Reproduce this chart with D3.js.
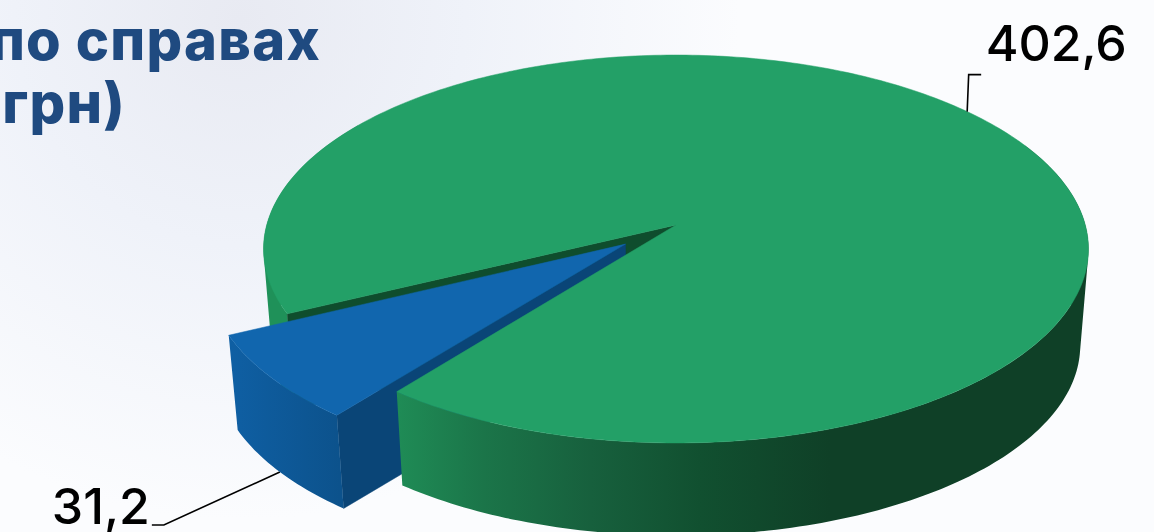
<!DOCTYPE html>
<html>
<head>
<meta charset="utf-8">
<script src="https://cdn.jsdelivr.net/npm/d3@7"></script>
<style>
  html, body { margin: 0; padding: 0; background: #fbfcfe; overflow: hidden; }
  svg { display: block; }
  .title { font-family: Inter, sans-serif; font-weight: 800; font-size: 56px; letter-spacing: 1.3px; fill: #1f4a80; text-anchor: end; }
  .value { font-family: Inter, sans-serif; font-weight: 500; font-size: 50px; fill: #000; }
  .leader { fill: none; stroke: #000; stroke-width: 1.6; }
</style>
</head>
<body>
<svg width="1154" height="532"></svg>
<script>
'use strict';

var categories = ['green', 'blue'];
var values = [402.6, 31.2];
var valueLabels = ['402,6', '31,2'];
var titleLines = ['по справах', 'грн)'];

var WIDTH = 1154,
  HEIGHT = 532,
  RAD = Math.PI / 180;

// the disc is a flattened circle seen from above with some perspective
var CENTER = { x: 676, y: 225 },
  RADIUS_X = 409.3,
  RADIUS_Y = 191,
  PERSPECTIVE = 0.1237,
  DEPTH = 97,
  BOTTOM_SCALE = 0.98,
  EXPLODE = 0.157;

var svg = d3.select('svg');
var defs = svg.append('defs');

function project(u, v, bottom) {
  var k = 1 / (1 - PERSPECTIVE * v),
    s = bottom ? BOTTOM_SCALE : 1;
  return [
    CENTER.x + RADIUS_X * u * k * s,
    CENTER.y + RADIUS_Y * v * k * s + (bottom ? DEPTH : 0)
  ];
}

// angle as in d3.pie: 0 at twelve o'clock, clockwise
function rim(angle, offset, bottom) {
  return project(Math.sin(angle) + offset[0], -Math.cos(angle) + offset[1], bottom);
}

function arcPoints(a0, a1, offset, bottom) {
  var n = Math.max(2, Math.ceil(Math.abs(a1 - a0) / RAD));
  return d3.range(n + 1).map(function(i) {
    return rim(a0 + (a1 - a0) * i / n, offset, bottom);
  });
}

var line = d3.line().curve(d3.curveLinear);

function polygon(points, fill) {
  return svg.append('path')
    .attr('d', line(points) + 'Z')
    .attr('fill', fill)
    .attr('stroke', fill)
    .attr('stroke-width', 0.5);
}

// one quad per step inside one path, a single outline would lose the
// straight edge at the far left and right of the disc
function sideWall(a0, a1, offset, fill) {
  var top = arcPoints(a0, a1, offset, false),
    bottom = arcPoints(a0, a1, offset, true);
  var d = d3.range(top.length - 1).map(function(i) {
    var quad = [top[i], top[i + 1], bottom[i + 1], bottom[i]];
    // same winding for all, or overlaps cancel out under nonzero
    if (d3.polygonArea(quad) < 0) quad.reverse();
    return line(quad) + 'Z';
  }).join('');
  return svg.append('path')
    .attr('d', d)
    .attr('fill', fill)
    .attr('fill-rule', 'nonzero');
}

function radialWall(angle, offset, fill) {
  return polygon([
    project(offset[0], offset[1], false),
    rim(angle, offset, false),
    rim(angle, offset, true),
    project(offset[0], offset[1], true)
  ], fill);
}

function topFace(a0, a1, offset, fill) {
  return polygon([project(offset[0], offset[1], false)].concat(arcPoints(a0, a1, offset, false)), fill);
}

function gradient(id, x1, x2, stops) {
  var g = defs.append('linearGradient')
    .attr('id', id)
    .attr('gradientUnits', 'userSpaceOnUse')
    .attr('x1', x1).attr('x2', x2)
    .attr('y1', 0).attr('y2', 0);
  stops.forEach(function(s) {
    g.append('stop').attr('offset', s[0]).attr('stop-color', s[1]);
  });
  return 'url(#' + id + ')';
}

// background tint in the upper left
var tint = defs.append('radialGradient')
  .attr('id', 'tint')
  .attr('gradientUnits', 'userSpaceOnUse')
  .attr('cx', 240).attr('cy', 20).attr('r', 500);
tint.append('stop').attr('offset', 0).attr('stop-color', '#e8eaf2');
tint.append('stop').attr('offset', 0.45).attr('stop-color', '#eff2f9');
tint.append('stop').attr('offset', 1).attr('stop-color', '#fbfcfe');

svg.append('rect')
  .attr('width', WIDTH)
  .attr('height', HEIGHT)
  .attr('fill', 'url(#tint)');

var slices = d3.pie().sort(null)
  .startAngle(243.9 * RAD)
  .endAngle(603.9 * RAD)(values);

var green = slices[categories.indexOf('green')],
  blue = slices[categories.indexOf('blue')];

var blueMid = (blue.startAngle + blue.endAngle) / 2,
  greenMid = (green.startAngle + green.endAngle) / 2,
  noOffset = [0, 0],
  blueOffset = [Math.sin(blueMid) * EXPLODE, -Math.cos(blueMid) * EXPLODE];

var greenSide = gradient('greenSide', 396, 830, [
  [0, '#1f8c56'], [0.2, '#1b7549'], [0.45, '#17603d'], [0.7, '#115030'], [1, '#0f4027']
]);
var blueSide = gradient('blueSide', 232, 340, [
  [0, '#0f5fa3'], [1, '#0c528c']
]);

// leader of the blue slice runs behind it
var blueAnchor = rim(blueMid, blueOffset, true);
svg.append('path')
  .attr('class', 'leader')
  .attr('d', line([
    blueAnchor,
    [blueAnchor[0] - 116, blueAnchor[1] + 53],
    [blueAnchor[0] - 128, blueAnchor[1] + 53]
  ]));

// back of the notch and the far left rim
sideWall(green.startAngle, green.startAngle + 60 * RAD, noOffset, '#1f9159');
radialWall(green.startAngle, noOffset, '#0f4d2d');

// blue slice
radialWall(blue.startAngle, blueOffset, '#0a4577');
sideWall(blue.startAngle, blue.endAngle, blueOffset, blueSide);
topFace(blue.startAngle, blue.endAngle, blueOffset, '#1166ae');

// green slice
sideWall(green.startAngle + 180 * RAD, green.endAngle, noOffset, greenSide);
topFace(green.startAngle, green.endAngle, noOffset, '#23a067');

// the leader leaves the rim a little before the middle of the slice
var greenAnchor = rim(greenMid - 0.8 * RAD, noOffset, false);
svg.append('path')
  .attr('class', 'leader')
  .attr('d', line([
    greenAnchor,
    [greenAnchor[0] + 1.5, greenAnchor[1] - 37],
    [greenAnchor[0] + 14, greenAnchor[1] - 37]
  ]));

// labels
svg.append('text')
  .attr('class', 'value')
  .attr('x', greenAnchor[0] + 18.5)
  .attr('y', greenAnchor[1] - 50.5)
  .text(valueLabels[0]);

svg.append('text')
  .attr('class', 'value')
  .attr('x', blueAnchor[0] - 228)
  .attr('y', blueAnchor[1] + 52)
  .text(valueLabels[1]);

svg.selectAll('.title')
  .data(titleLines)
  .enter()
  .append('text')
  .attr('class', 'title')
  .attr('x', function(d, i) { return i === 0 ? 321 : 126; })
  .attr('y', function(d, i) { return 60 + i * 63; })
  .text(function(d) { return d; });
</script>
</body>
</html>
